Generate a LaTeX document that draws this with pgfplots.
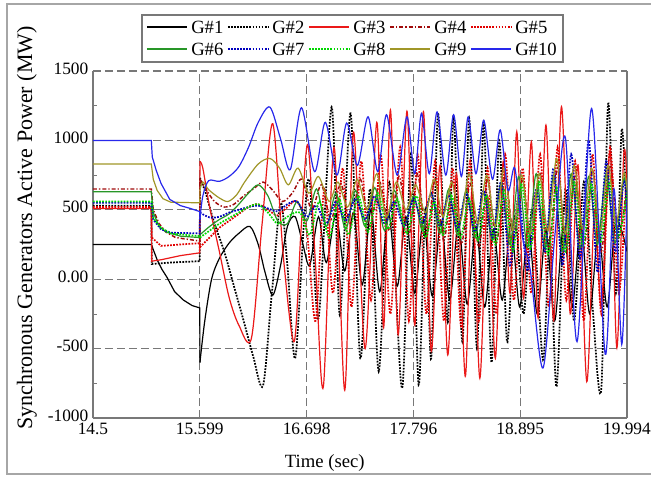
\documentclass[border=0pt]{standalone}
\usepackage{fontspec}
\setmainfont{Liberation Serif}
\usepackage{pgfplots}
\pgfplotsset{compat=1.18}
\definecolor{cGa}{RGB}{235,25,25}
\definecolor{cGb}{RGB}{160,10,10}
\definecolor{cGc}{RGB}{225,0,0}
\definecolor{cGd}{RGB}{40,150,40}
\definecolor{cGe}{RGB}{0,0,190}
\definecolor{cGf}{RGB}{0,215,0}
\definecolor{cGg}{RGB}{160,150,40}
\definecolor{cGh}{RGB}{40,40,235}
\definecolor{axgray}{RGB}{120,120,120}
\begin{document}
\begin{tikzpicture}
\begin{axis}[
  name=ax, at={(0,0)}, anchor=south west,
  scale only axis, width=400.5pt, height=260.25pt,
  xmin=14.5, xmax=19.994, ymin=-1000, ymax=1500,
  axis x line*=bottom, axis y line*=box,
  axis line style={axgray, line width=1pt},
  xtick={14.5,15.599,16.698,17.796,18.895,19.994},
  xticklabels={14.5,15.599,16.698,17.796,18.895,19.994},
  ytick={-1000,-500,0,500,1000,1500},
  yticklabels={-1000,-500,0.00,500,1000,1500},
  minor x tick num=1, minor y tick num=1,
  tick style={axgray, line width=0.6pt},
  major tick length=4pt, minor tick length=3pt,
  tick label style={font=\fontsize{13}{15}\selectfont},
  yticklabel style={yshift=2pt},
  grid=major,
  major grid style={axgray, line width=0.9pt, dash pattern=on 6pt off 3pt},
  xlabel={Time (sec)},
  xlabel style={font=\fontsize{14}{16}\selectfont, at={(axis description cs:0.434,-0.13)}, anchor=center},
  ylabel={Synchronous Generators Active Power (MW)},
  ylabel style={font=\fontsize{16.5}{18}\selectfont, at={(axis description cs:-0.124,0.548)}, anchor=center},
]
% G#1
\addplot[black, line width=0.9pt] coordinates {(14.5,250) (15.10,250) (15.16,140) (15.21,70) (15.26,15) (15.34,-90) (15.43,-150) (15.52,-190) (15.599,-207) (15.60,-600)};
\addplot[black, line width=0.9pt, smooth] coordinates {(15.60,-600) (15.65,-300) (15.72,0) (15.80,150) (15.90,260) (16.00,330) (16.115,380) (16.20,250) (16.27,50) (16.35,-115) (16.43,100) (16.50,380) (16.58,450) (16.66,250) (16.73,100) (16.82,450) (16.90,120) (17.00,470) (17.09,60) (17.18,480) (17.27,-40) (17.36,500) (17.45,-90) (17.54,480) (17.63,-50) (17.72,450) (17.81,-100) (17.90,430) (17.99,-120) (18.08,420) (18.17,-150) (18.26,400) (18.35,-180) (18.44,380) (18.53,-200) (18.62,360) (18.71,-150) (18.80,400) (18.89,-200) (18.98,380) (19.07,-250) (19.16,350) (19.25,-300) (19.34,380) (19.43,-200) (19.52,400) (19.61,-250) (19.70,350) (19.79,-200) (19.88,420) (19.994,200)};
% G#2
\addplot[black, line width=1.3pt, densely dotted] coordinates {(14.5,530) (15.10,530) (15.105,110) (15.3,120) (15.599,130) (15.60,730)};
\addplot[black, line width=1.3pt, densely dotted, smooth] coordinates {(15.60,730) (15.66,620) (15.75,400) (15.85,200) (15.95,-50) (16.05,-300) (16.15,-560) (16.25,-765) (16.34,-100) (16.43,550) (16.50,100) (16.58,-570) (16.67,400) (16.73,700) (16.82,-280) (16.955,1240) (17.04,-260) (17.15,1195) (17.25,-570) (17.35,650) (17.44,-665) (17.55,700) (17.68,-785) (17.77,900) (17.85,-760) (17.92,500) (17.98,-570) (18.05,1190) (18.15,-310) (18.21,1180) (18.30,-450) (18.37,1160) (18.45,-500) (18.52,1130) (18.60,-600) (18.68,1000) (18.76,-450) (18.84,450) (18.93,-250) (19.02,500) (19.13,-580) (19.20,300) (19.27,-775) (19.36,650) (19.45,-300) (19.55,700) (19.64,-200) (19.73,-785) (19.80,1265) (19.88,-100) (19.94,1080) (19.994,400)};
% G#3
\addplot[cGa, line width=0.9pt] coordinates {(14.5,510) (15.10,510) (15.105,130) (15.2,140) (15.4,170) (15.599,190) (15.60,850)};
\addplot[cGa, line width=0.9pt, smooth] coordinates {(15.60,850) (15.63,800) (15.70,520) (15.80,200) (15.90,-130) (16.00,-330) (16.13,-425) (16.24,400) (16.35,1120) (16.46,150) (16.57,-450) (16.64,350) (16.71,970) (16.79,100) (16.87,-775) (16.98,950) (17.09,-800) (17.18,1060) (17.30,-500) (17.42,1130) (17.49,-350) (17.56,1220) (17.64,-400) (17.73,1210) (17.81,-330) (17.90,1207) (17.98,-520) (18.07,820) (18.15,-546) (18.24,760) (18.33,-700) (18.40,650) (18.48,-714) (18.56,600) (18.64,-570) (18.72,850) (18.79,-100) (18.86,1063) (18.93,-135) (19.01,990) (19.08,-280) (19.16,1110) (19.24,-300) (19.32,1243) (19.41,-250) (19.49,823) (19.58,-738) (19.66,500) (19.73,-200) (19.82,919) (19.89,-495) (19.96,895) (19.994,700)};
% G#4
\addplot[cGb, line width=1.1pt, dash pattern=on 3pt off 1.5pt on 1pt off 1.5pt] coordinates {(14.5,650) (15.10,650) (15.12,500) (15.18,400) (15.25,340) (15.35,300) (15.599,275) (15.60,720)};
\addplot[cGb, line width=1.1pt, dash pattern=on 3pt off 1.5pt on 1pt off 1.5pt, smooth] coordinates {(15.60,720) (15.66,650) (15.75,560) (15.85,520) (15.95,540) (16.05,600) (16.15,650) (16.25,700) (16.35,640) (16.45,560) (16.55,620) (16.65,720) (16.75,500) (16.85,680) (16.95,430) (17.05,690) (17.15,400) (17.25,720) (17.35,380) (17.45,700) (17.55,350) (17.65,740) (17.75,320) (17.84,760) (17.93,300) (18.02,720) (18.11,280) (18.20,700) (18.29,250) (18.38,690) (18.47,230) (18.56,720) (18.65,260) (18.74,740) (18.83,300) (18.92,720) (19.01,250) (19.10,760) (19.19,230) (19.28,800) (19.37,250) (19.46,740) (19.55,220) (19.64,780) (19.73,200) (19.82,820) (19.91,300) (19.994,700)};
% G#5
\addplot[cGc, line width=1.3pt, densely dotted] coordinates {(14.5,520) (15.10,520) (15.105,300) (15.2,240) (15.4,250) (15.599,260) (15.60,230)};
\addplot[cGc, line width=1.3pt, densely dotted, smooth] coordinates {(15.60,230) (15.70,300) (15.80,370) (15.90,420) (16.00,470) (16.10,520) (16.20,540) (16.30,500) (16.40,460) (16.50,520) (16.60,560) (16.70,350) (16.79,-300) (16.88,650) (16.97,-100) (17.07,800) (17.16,-200) (17.26,850) (17.36,-150) (17.46,900) (17.56,-250) (17.66,950) (17.75,-300) (17.84,900) (17.93,-250) (18.02,850) (18.11,-300) (18.20,800) (18.29,-350) (18.38,850) (18.47,-300) (18.56,800) (18.65,-250) (18.74,900) (18.83,-150) (18.92,800) (19.01,-100) (19.10,900) (19.19,-200) (19.28,950) (19.37,-150) (19.46,850) (19.55,-300) (19.64,900) (19.73,-250) (19.82,950) (19.91,-100) (19.994,800)};
% G#6
\addplot[cGd, line width=0.9pt] coordinates {(14.5,630) (15.10,630) (15.12,480) (15.18,380) (15.25,340) (15.4,310) (15.599,300) (15.60,320)};
\addplot[cGd, line width=0.9pt, smooth] coordinates {(15.60,320) (15.70,380) (15.80,430) (15.90,470) (16.00,540) (16.10,620) (16.20,680) (16.30,600) (16.40,420) (16.50,400) (16.60,560) (16.70,420) (16.80,650) (16.90,380) (17.00,620) (17.10,360) (17.20,640) (17.30,380) (17.40,660) (17.50,350) (17.60,640) (17.70,380) (17.80,600) (17.89,350) (17.98,620) (18.07,330) (18.16,650) (18.25,320) (18.34,640) (18.43,300) (18.52,620) (18.61,280) (18.70,700) (18.79,250) (18.88,740) (18.97,230) (19.06,760) (19.15,220) (19.24,750) (19.33,200) (19.42,760) (19.51,220) (19.60,740) (19.69,250) (19.78,760) (19.87,260) (19.96,720) (19.994,600)};
% G#7
\addplot[cGe, line width=1.3pt, densely dotted] coordinates {(14.5,550) (15.10,550) (15.12,430) (15.2,360) (15.3,335) (15.599,330) (15.60,480)};
\addplot[cGe, line width=1.3pt, densely dotted, smooth] coordinates {(15.60,480) (15.70,445) (15.80,450) (15.90,480) (16.00,500) (16.10,520) (16.20,530) (16.30,510) (16.40,490) (16.50,540) (16.60,560) (16.70,450) (16.80,530) (16.90,400) (17.00,560) (17.10,420) (17.20,580) (17.30,430) (17.40,600) (17.50,400) (17.60,560) (17.70,380) (17.80,580) (17.89,400) (17.98,620) (18.07,380) (18.16,600) (18.25,360) (18.34,620) (18.43,340) (18.52,640) (18.61,300) (18.70,700) (18.79,100) (18.88,600) (18.97,60) (19.06,650) (19.15,200) (19.24,800) (19.33,100) (19.42,900) (19.51,150) (19.60,1000) (19.69,50) (19.78,850) (19.87,200) (19.96,700) (19.994,500)};
% G#8
\addplot[cGf, line width=1.3pt, densely dotted] coordinates {(14.5,560) (15.10,560) (15.12,440) (15.2,370) (15.3,330) (15.599,310) (15.60,300)};
\addplot[cGf, line width=1.3pt, densely dotted, smooth] coordinates {(15.60,300) (15.70,350) (15.80,400) (15.90,440) (16.00,480) (16.10,520) (16.20,540) (16.30,480) (16.40,400) (16.50,450) (16.63,480) (16.73,320) (16.83,560) (16.93,300) (17.03,580) (17.13,320) (17.23,600) (17.33,340) (17.43,620) (17.53,360) (17.63,580) (17.73,330) (17.83,600) (17.92,300) (18.01,560) (18.10,320) (18.19,600) (18.28,300) (18.37,580) (18.46,280) (18.55,600) (18.64,250) (18.73,640) (18.82,200) (18.91,680) (19.00,220) (19.09,700) (19.18,180) (19.27,660) (19.36,200) (19.45,700) (19.54,240) (19.63,680) (19.72,260) (19.81,700) (19.90,300) (19.994,620)};
% G#9
\addplot[cGg, line width=0.9pt] coordinates {(14.5,830) (15.10,830) (15.12,720) (15.16,640) (15.22,580) (15.30,555) (15.599,550) (15.60,640)};
\addplot[cGg, line width=0.9pt, smooth] coordinates {(15.60,640) (15.63,700) (15.69,645) (15.80,585) (15.89,560) (15.98,610) (16.06,700) (16.20,830) (16.32,870) (16.42,800) (16.51,680) (16.61,800) (16.72,620) (16.82,740) (16.93,560) (17.02,700) (17.12,520) (17.22,720) (17.32,500) (17.42,760) (17.52,450) (17.62,700) (17.72,500) (17.82,680) (17.92,480) (18.01,720) (18.10,450) (18.19,700) (18.28,420) (18.37,760) (18.46,400) (18.55,750) (18.64,380) (18.73,800) (18.82,350) (18.91,750) (19.00,330) (19.09,760) (19.18,350) (19.27,870) (19.36,330) (19.45,820) (19.54,360) (19.63,800) (19.72,350) (19.80,820) (19.88,400) (19.96,760) (19.994,650)};
% G#10
\addplot[cGh, line width=0.9pt] coordinates {(14.5,1000) (15.10,1000) (15.11,880) (15.15,785) (15.20,690) (15.29,575) (15.40,530) (15.50,510) (15.599,487) (15.60,430)};
\addplot[cGh, line width=0.9pt, smooth] coordinates {(15.60,430) (15.63,600) (15.69,710) (15.80,705) (15.90,740) (16.00,810) (16.10,950) (16.20,1130) (16.32,1240) (16.43,1010) (16.53,790) (16.645,1235) (16.78,775) (16.89,1130) (17.01,750) (17.11,1125) (17.22,820) (17.33,1170) (17.43,775) (17.52,1185) (17.63,750) (17.73,1170) (17.81,760) (17.88,1195) (17.96,760) (18.04,1205) (18.13,750) (18.21,1185) (18.29,740) (18.36,1170) (18.44,760) (18.52,1145) (18.61,720) (18.69,1075) (18.77,640) (18.84,800) (18.92,300) (19.00,60) (19.13,-640) (19.25,300) (19.36,1020) (19.48,-450) (19.63,1230) (19.77,-540) (19.86,650) (19.94,-470) (19.994,570)};
\end{axis}
% legend (drawn as a key box above the axis)
\draw[axgray, line width=0.8pt, fill=white] (36.75pt,267pt) rectangle (352.5pt,302.25pt);
\begin{scope}[every node/.style={anchor=west, inner sep=0pt, font=\fontsize{14}{16}\selectfont}]
\draw[black, line width=1pt] (40.5pt,293.25pt) -- ++(30pt,0pt);
\node at (73.5pt,293.25pt) {G\#1};
\draw[black, line width=1.3pt, densely dotted] (101.25pt,293.25pt) -- ++(30pt,0pt);
\node at (134.25pt,293.25pt) {G\#2};
\draw[cGa, line width=1.2pt] (162pt,293.25pt) -- ++(30pt,0pt);
\node at (195pt,293.25pt) {G\#3};
\draw[cGb, line width=1.3pt, dash pattern=on 3pt off 1.5pt on 1pt off 1.5pt] (222.75pt,293.25pt) -- ++(30pt,0pt);
\node at (255.75pt,293.25pt) {G\#4};
\draw[cGc, line width=1.3pt, densely dotted] (283.5pt,293.25pt) -- ++(30pt,0pt);
\node at (316.5pt,293.25pt) {G\#5};
\draw[cGd, line width=1.2pt] (40.5pt,276.75pt) -- ++(30pt,0pt);
\node at (73.5pt,276.75pt) {G\#6};
\draw[cGe, line width=1.3pt, densely dotted] (101.25pt,276.75pt) -- ++(30pt,0pt);
\node at (134.25pt,276.75pt) {G\#7};
\draw[cGf, line width=1.3pt, densely dotted] (162pt,276.75pt) -- ++(30pt,0pt);
\node at (195pt,276.75pt) {G\#8};
\draw[cGg, line width=1.2pt] (222.75pt,276.75pt) -- ++(30pt,0pt);
\node at (255.75pt,276.75pt) {G\#9};
\draw[cGh, line width=1.2pt] (283.5pt,276.75pt) -- ++(30pt,0pt);
\node at (316.5pt,276.75pt) {G\#10};
\end{scope}
\draw[gray!70, line width=1.5pt] (-64.5pt,-42pt) rectangle (440pt,310.5pt);
\pgfresetboundingbox
\path[use as bounding box] (-69.75pt,-43.5pt) rectangle (418.5pt,313.5pt);
\end{tikzpicture}
\end{document}
